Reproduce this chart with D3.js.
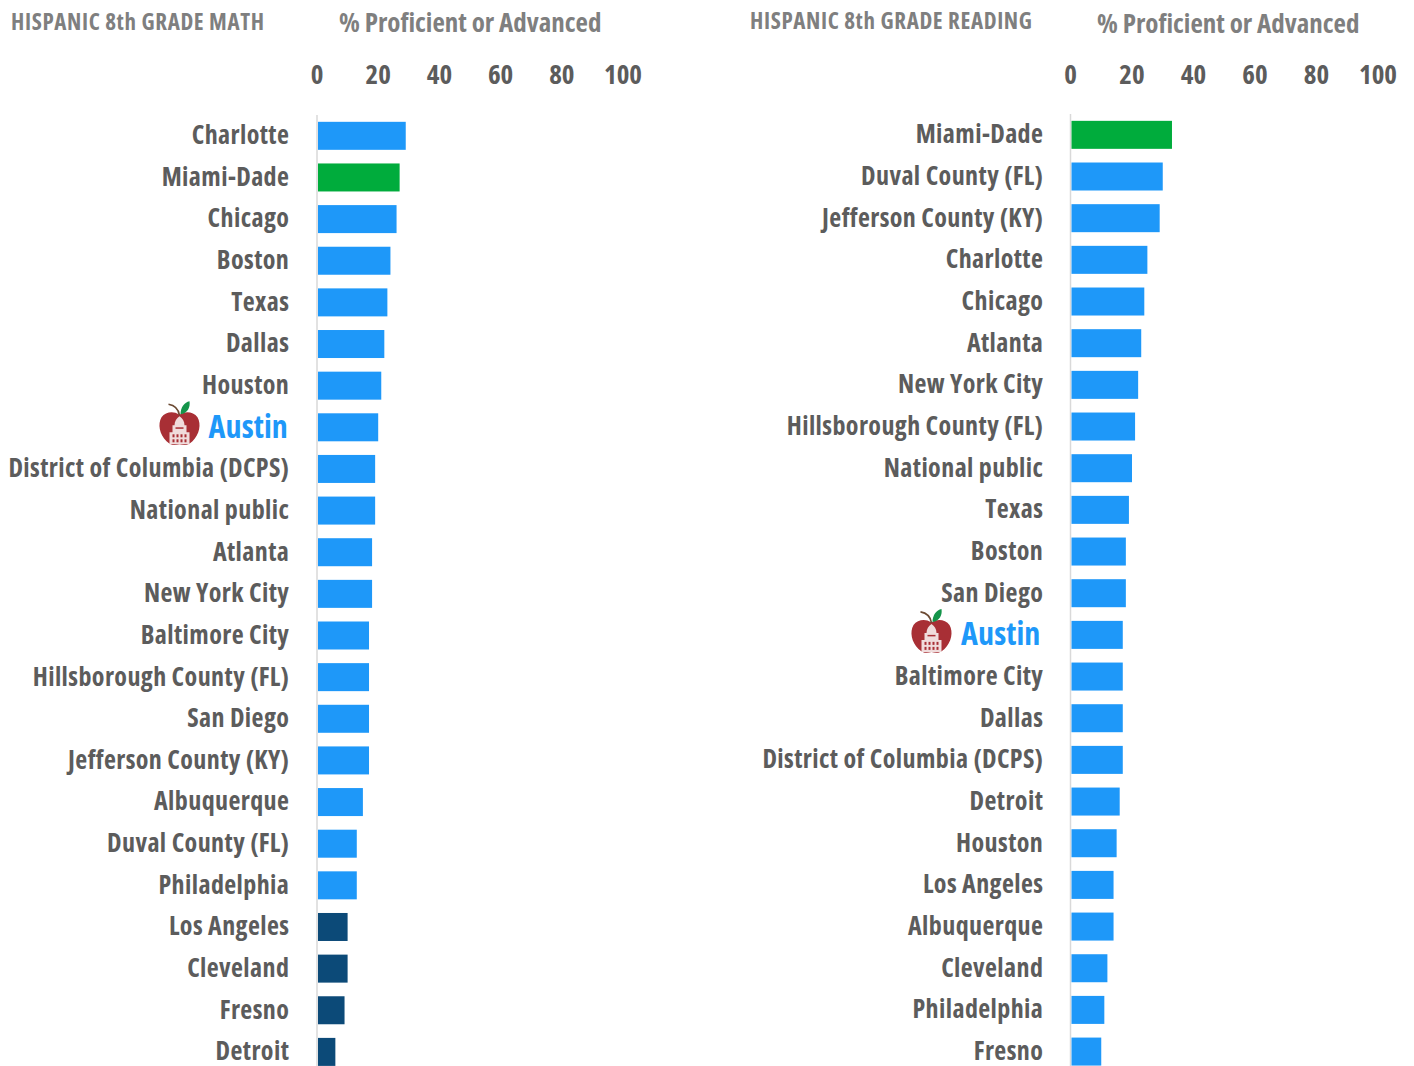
<!DOCTYPE html>
<html><head><meta charset="utf-8">
<script src="https://cdnjs.cloudflare.com/ajax/libs/d3/7.8.5/d3.min.js"></script>
<style>
html,body{margin:0;padding:0;background:#fff;overflow:hidden}
svg{display:block}
text{font-family:"Open Sans",sans-serif;font-weight:700;font-stretch:75%}
</style></head><body>
<script>
const mathCities=["Charlotte","Miami-Dade","Chicago","Boston","Texas","Dallas","Houston","Austin","District of Columbia (DCPS)","National public","Atlanta","New York City","Baltimore City","Hillsborough County (FL)","San Diego","Jefferson County (KY)","Albuquerque","Duval County (FL)","Philadelphia","Los Angeles","Cleveland","Fresno","Detroit"];
const mathValues=[29,27,26,24,23,22,21,20,19,19,18,18,17,17,17,17,15,13,13,10,10,9,6];
const readingCities=["Miami-Dade","Duval County (FL)","Jefferson County (KY)","Charlotte","Chicago","Atlanta","New York City","Hillsborough County (FL)","National public","Texas","Boston","San Diego","Austin","Baltimore City","Dallas","District of Columbia (DCPS)","Detroit","Houston","Los Angeles","Albuquerque","Cleveland","Philadelphia","Fresno"];
const readingValues=[33,30,29,25,24,23,22,21,20,19,18,18,17,17,17,17,16,15,14,14,12,11,10];
const mathDark=["Los Angeles","Cleveland","Fresno","Detroit"];
const tickValues=[0,20,40,60,80,100];
const BLUE="#1e98f9",GREEN="#00ac3c",DARK="#0c4a78",GREY="#5c5c5c",TITLE="#7f7f7f";

const svg=d3.select("body").append("svg").attr("width",1414).attr("height",1066);

function apple(g,x,y){
  const a=g.append("g").attr("transform",`translate(${x},${y})`);
  a.append("path").attr("d","M-1,-10 C-5,-13 -14,-13 -18,-7 C-22,0 -20,10 -13,17 C-8,22 -4,21 0,20 C4,21 8,22 13,17 C20,10 22,0 18,-7 C14,-13 5,-13 1,-10 Z").attr("fill","#a82f35");
  a.append("path").attr("d","M0,-9 C-1,-15 -5,-19 -11,-20").attr("fill","none").attr("stroke","#6b4a33").attr("stroke-width",1.6);
  a.append("path").attr("d","M1,-10 C1,-17 5,-22 10,-23 C11,-17 8,-11 1,-10 Z").attr("fill","#14944a");
  a.append("path").attr("d","M-10,20 V8 H-7 V1 H-5 C-5,-3 -3,-6 0,-8 C3,-6 5,-3 5,1 H7 V8 H10 V20 Z").attr("fill","#f0dcdc");
  [-6,-2,2,6].forEach(dx=>{
    a.append("rect").attr("x",dx-1).attr("y",10).attr("width",2).attr("height",3).attr("fill","#a82f35");
    a.append("rect").attr("x",dx-1).attr("y",15).attr("width",2).attr("height",3).attr("fill","#a82f35");
  });
  a.append("rect").attr("x",-4).attr("y",3).attr("width",8).attr("height",1.5).attr("fill","#a82f35");
}

function panel(o){
  const g=svg.append("g");
  const x=d3.scaleLinear().domain([0,100]).range([o.x0,o.x0+o.w]);
  const y=d3.scaleBand().domain(o.cities).range([o.yTop,o.yTop+o.step*o.cities.length]).paddingInner(1-28/o.step).paddingOuter((1-28/o.step)/2);
  g.append("text").attr("x",o.titleX).attr("y",o.titleY).attr("font-size",23).attr("letter-spacing",0.63).attr("fill",TITLE).text(o.title);
  g.append("text").attr("x",o.subX).attr("y",o.subY).attr("font-size",27).attr("fill",TITLE).text("% Proficient or Advanced");
  const ax=g.append("g").attr("transform",`translate(0,${o.axisY})`).call(d3.axisTop(x).tickValues(tickValues).tickSize(0).tickPadding(0));
  ax.select(".domain").remove();
  ax.selectAll("text").attr("font-size",27).attr("fill",GREY).attr("dx",-0.5);
  ax.attr("font-family",null);
  g.append("line").attr("x1",o.x0).attr("x2",o.x0).attr("y1",o.yTop).attr("y2",1066).attr("stroke","#d9d9d9").attr("stroke-width",1.5);
  g.selectAll("rect.bar").data(o.cities).join("rect").attr("class","bar")
    .attr("x",x(0)+1).attr("y",d=>y(d)).attr("height",y.bandwidth())
    .attr("width",(d,i)=>x(o.values[i])-x(0)-1)
    .attr("fill",d=>d==="Miami-Dade"?GREEN:(o.dark.includes(d)?DARK:BLUE));
  g.selectAll("text.lab").data(o.cities).join("text").attr("class","lab")
    .attr("x",d=>d==="Austin"?o.x0-o.austinGap:o.x0-o.labGap)
    .attr("y",d=>y(d)+y.bandwidth()/2-1).attr("dy","0.36em").attr("text-anchor","end")
    .attr("letter-spacing",d=>d==="Austin"?0.1:0.4)
    .attr("font-size",d=>d==="Austin"?32:26).attr("fill",d=>d==="Austin"?BLUE:GREY).text(d=>d);
  apple(g,o.x0-o.appleGap,y("Austin")+y.bandwidth()/2-3);
}
panel({title:"HISPANIC 8th GRADE MATH",titleX:11,titleY:30,subX:339,subY:32,axisY:84,x0:317,w:306,yTop:115,step:41.64,labGap:27.7,austinGap:29,appleGap:137.5,cities:mathCities,values:mathValues,dark:mathDark});
panel({title:"HISPANIC 8th GRADE READING",titleX:750,titleY:29,subX:1097,subY:33,axisY:84,x0:1070.5,w:307.5,yTop:114,step:41.67,labGap:27.2,austinGap:30,appleGap:139,cities:readingCities,values:readingValues,dark:[]});
</script></body></html>
